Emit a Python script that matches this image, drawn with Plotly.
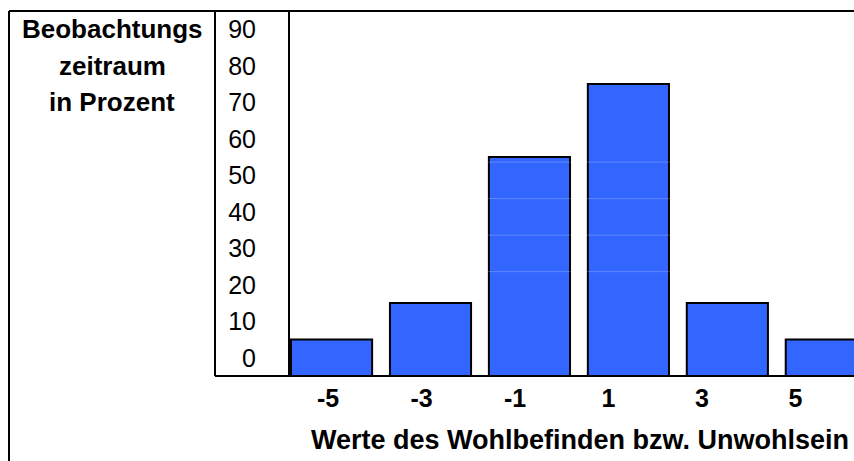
import plotly.graph_objects as go

# Wellbeing scores and share of the observation period (%)
scores = [-5, -3, -1, 1, 3, 5]
shares = [10, 20, 60, 80, 20, 10]
score_labels = ["-5", "-3", "-1", "1", "3", "5"]
pct_ticks = [0, 10, 20, 30, 40, 50, 60, 70, 80, 90]
pct_labels = [str(v) for v in pct_ticks]
side_title = ["Beobachtungs", "zeitraum", "in Prozent"]
x_title = "Werte des Wohlbefinden bzw. Unwohlsein"

W, H = 854, 461
M_L, M_R, M_T, M_B = 290, 0, 11, 85
PW = W - M_L - M_R
PH = H - M_T - M_B


def px_x(px):
    return (px - M_L) / PW


def px_y(py):
    return (H - M_B - py) / PH


FONT = "Liberation Sans, Arial, sans-serif"
BLUE = "#3366FF"

fig = go.Figure()
fig.add_trace(go.Bar(
    x=scores, y=shares, width=1.64,
    marker=dict(color=BLUE, line=dict(color="black", width=2)),
    hoverinfo="skip", showlegend=False,
))
# carrier trace for the label axis
fig.add_trace(go.Scatter(
    x=scores, y=[0] * len(scores), xaxis="x2", mode="markers",
    marker=dict(opacity=0), hoverinfo="skip", showlegend=False,
))

# labels centred in each 10 % band
band_centres = [v + 5 for v in pct_ticks]

fig.update_layout(
    width=W, height=H,
    margin=dict(l=M_L, r=M_R, t=M_T, b=M_B, pad=0),
    paper_bgcolor="white", plot_bgcolor="white",
    font=dict(family=FONT, size=24, color="black"),
    showlegend=False,
    xaxis=dict(
        range=[-5.84, 5.56], showgrid=False, zeroline=False,
        showticklabels=False, ticks="", showline=False, fixedrange=True,
    ),
    xaxis2=dict(
        overlaying="x", side="bottom", range=[-5.813, 6.251],
        tickvals=scores, ticktext=[f"<b>{t}</b>" for t in score_labels],
        showgrid=False, zeroline=False, showline=False, ticks="",
        ticklabelstandoff=5, tickfont=dict(family=FONT, size=25),
        fixedrange=True,
    ),
    yaxis=dict(
        range=[0, 100], tickvals=band_centres, ticktext=pct_labels,
        showgrid=False, zeroline=False, ticks="",
        showline=True, linecolor="black", linewidth=2,
        ticklabelstandoff=27, tickfont=dict(family=FONT, size=25),
        fixedrange=True,
    ),
)

# faint light lines crossing the tall bars
for gy in [28.6, 38.6, 48.6, 58.6]:
    fig.add_shape(type="line", xref="paper", yref="y", x0=0, x1=1, y0=gy, y1=gy,
                  line=dict(color="rgba(255,255,255,0.22)", width=1), layer="above")

frame = dict(color="black", width=2)
# outer frame: top and left edge
fig.add_shape(type="line", xref="paper", yref="paper",
              x0=px_x(9), x1=1.01, y0=1, y1=1, line=frame)
fig.add_shape(type="line", xref="paper", yref="paper",
              x0=px_x(9), x1=px_x(9), y0=px_y(H + 5), y1=1, line=frame)
# tick-label column and baseline
fig.add_shape(type="line", xref="paper", yref="paper",
              x0=px_x(215), x1=px_x(215), y0=0, y1=1, line=frame)
fig.add_shape(type="line", xref="paper", yref="paper",
              x0=px_x(215), x1=1.01, y0=0, y1=0, line=frame)

for text, yv in zip(side_title, [95, 85, 75]):
    fig.add_annotation(text=f"<b>{text}</b>", xref="paper", yref="y",
                       x=px_x(112), y=yv, showarrow=False,
                       xanchor="center", yanchor="middle",
                       font=dict(family=FONT, size=26))

fig.add_annotation(text=f"<b>{x_title}</b>", xref="paper", yref="paper",
                   x=px_x(580), y=px_y(440), showarrow=False,
                   xanchor="center", yanchor="middle",
                   font=dict(family=FONT, size=27))

fig.write_html("out.html", config={"displayModeBar": False, "staticPlot": True})
